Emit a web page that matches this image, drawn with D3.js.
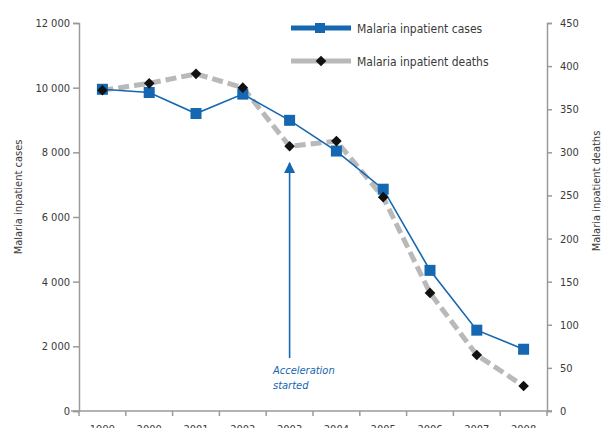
<!DOCTYPE html>
<html lang="en">
<head>
<meta charset="utf-8">
<title>Malaria inpatient cases and deaths</title>
<script src="https://cdn.jsdelivr.net/npm/d3@7"></script>
<style>
  body { margin: 0; background: #fff; }
  svg text { font-family: "Liberation Sans Narrow", "DejaVu Sans", sans-serif; font-stretch: condensed; }
</style>
</head>
<body>
<script>
// data
var years = ["1999", "2000", "2001", "2002", "2003", "2004", "2005", "2006", "2007", "2008"];
var cases = [9950, 9850, 9200, 9800, 8990, 8040, 6860, 4350, 2500, 1910];
var deaths = [372, 380, 391, 375, 307, 313, 248, 137, 65, 29];
var casesTicks = [0, 2000, 4000, 6000, 8000, 10000, 12000];
var deathsTicks = [0, 50, 100, 150, 200, 250, 300, 350, 400, 450];

var w = 601, h = 428;
var mLeft = 79, mRight = 547, mTop = 23, mBottom = 411;
var blue = "#1467b0", grey = "#b9b9b9", axisCol = "#9a9a9a", txt = "#3a3a3a";

var svg = d3.select("body").append("svg")
  .attr("width", w).attr("height", h);

var x = d3.scaleBand().domain(years).range([mLeft, mRight]);
var yL = d3.scaleLinear().domain([0, 12000]).range([mBottom, mTop]);
var yR = d3.scaleLinear().domain([0, 450]).range([mBottom, mTop]);

var fmt = function(d) { return d3.format(",")(d).replace(",", " "); };

// left axis
var gL = svg.append("g").attr("transform", "translate(" + mLeft + ",0)")
  .call(d3.axisLeft(yL).tickValues(casesTicks).tickSize(6).tickPadding(3).tickFormat(fmt));
// right axis
var gR = svg.append("g").attr("transform", "translate(" + mRight + ",0)")
  .call(d3.axisRight(yR).tickValues(deathsTicks).tickSize(5).tickPadding(8));
[gL, gR].forEach(function(g) {
  g.select(".domain").attr("stroke", axisCol).attr("stroke-width", 1.5);
  g.selectAll(".tick line").attr("stroke", axisCol).attr("stroke-width", 1.5);
  g.selectAll("text").attr("fill", txt).style("font-size", "11px");
});

// bottom axis: ticks on band edges, labels centred
var edges = years.map(function(d) { return x(d); }).concat([mRight]);
svg.append("line").attr("x1", mLeft - 8).attr("x2", mRight + 5)
  .attr("y1", mBottom).attr("y2", mBottom).attr("stroke", axisCol).attr("stroke-width", 1.5);
svg.selectAll(".xt").data(edges).enter().append("line")
  .attr("x1", function(d) { return d; }).attr("x2", function(d) { return d; })
  .attr("y1", mBottom).attr("y2", mBottom + 5)
  .attr("stroke", axisCol).attr("stroke-width", 1.5);
svg.selectAll(".xl").data(years).enter().append("text")
  .attr("x", function(d) { return x(d) + x.bandwidth() / 2; })
  .attr("y", mBottom + 22)
  .attr("text-anchor", "middle").attr("fill", txt).style("font-size", "11px")
  .text(function(d) { return d; });

// axis titles
svg.append("text").attr("transform", "translate(22,197) rotate(-90)")
  .attr("text-anchor", "middle").attr("fill", txt).style("font-size", "11px")
  .text("Malaria inpatient cases");
svg.append("text").attr("transform", "translate(600,191) rotate(-90)")
  .attr("text-anchor", "middle").attr("fill", txt).style("font-size", "11px")
  .text("Malaria inpatient deaths");

var cx = function(i) { return x(years[i]) + x.bandwidth() / 2; };

// deaths: thick dashed grey line with black diamonds
svg.append("path").datum(deaths)
  .attr("fill", "none").attr("stroke", grey).attr("stroke-width", 5)
  .attr("stroke-dasharray", "11,5")
  .attr("d", d3.line().x(function(d, i) { return cx(i); }).y(function(d) { return yR(d); }));

// cases: thin blue line with squares
svg.append("path").datum(cases)
  .attr("fill", "none").attr("stroke", blue).attr("stroke-width", 1.6)
  .attr("d", d3.line().x(function(d, i) { return cx(i); }).y(function(d) { return yL(d); }));
svg.selectAll(".sq").data(cases).enter().append("rect")
  .attr("x", function(d, i) { return cx(i) - 5.5; })
  .attr("y", function(d) { return yL(d) - 5.5; })
  .attr("width", 11).attr("height", 11).attr("fill", blue);

var diamond = d3.symbol().type(d3.symbolDiamond2).size(72);
svg.selectAll(".dm").data(deaths).enter().append("path")
  .attr("d", diamond)
  .attr("transform", function(d, i) { return "translate(" + cx(i) + "," + yR(d) + ")"; })
  .attr("fill", "#111");

// annotation arrow at 2003
var ax = cx(4);
svg.append("defs").append("marker")
  .attr("id", "head").attr("viewBox", "0 0 10 10").attr("refX", 9).attr("refY", 5)
  .attr("markerWidth", 7).attr("markerHeight", 7).attr("orient", "auto")
  .append("path").attr("d", "M0,0L10,5L0,10z").attr("fill", blue);
svg.append("line").attr("x1", ax).attr("x2", ax).attr("y1", 358).attr("y2", 163)
  .attr("stroke", blue).attr("stroke-width", 1.6).attr("marker-end", "url(#head)");
svg.append("text").attr("x", 273).attr("y", 374)
  .attr("fill", blue).style("font-size", "11px").style("font-style", "italic")
  .text("Acceleration");
svg.append("text").attr("x", 273).attr("y", 389)
  .attr("fill", blue).style("font-size", "11px").style("font-style", "italic")
  .text("started");

// legend
var legend = [
  { label: "Malaria inpatient cases", color: blue, y: 28, mark: "sq" },
  { label: "Malaria inpatient deaths", color: grey, y: 61, mark: "dm" }
];
legend.forEach(function(l) {
  svg.append("line").attr("x1", 291).attr("x2", 351).attr("y1", l.y).attr("y2", l.y)
    .attr("stroke", l.color).attr("stroke-width", 5);
  if (l.mark == "sq") {
    svg.append("rect").attr("x", 315).attr("y", l.y - 5).attr("width", 10).attr("height", 10).attr("fill", blue);
  } else {
    svg.append("path").attr("d", diamond).attr("transform", "translate(321," + l.y + ")").attr("fill", "#111");
  }
  svg.append("text").attr("x", 357).attr("y", l.y + 5)
    .attr("fill", txt).style("font-size", "12px").text(l.label);
});
</script>
</body>
</html>
